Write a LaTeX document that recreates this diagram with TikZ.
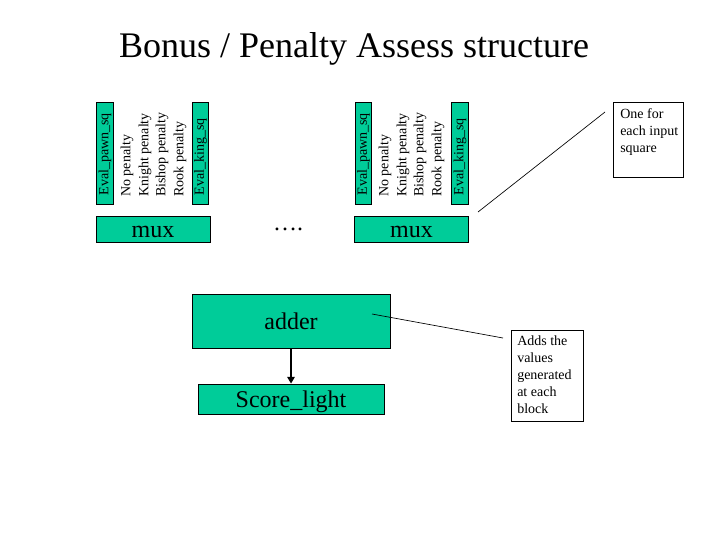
\documentclass[tikz,border=0pt]{standalone}
\usepackage{fontspec}
\setmainfont{Liberation Serif}
\usetikzlibrary{arrows.meta}
\definecolor{boxgreen}{RGB}{0,204,153}
\tikzset{
  gbox/.style={draw=black, line width=0.6pt, fill=boxgreen, inner sep=0pt},
  rotbox/.style={gbox, rotate=90, minimum width=76pt, minimum height=12.4pt,
    text width=63pt, inner xsep=6.5pt, align=left, font=\fontsize{10.5}{12.75}\selectfont},
  ptext/.style={rotate=90, anchor=west, inner sep=0pt, font=\fontsize{10.5}{12.75}\selectfont},
  muxbox/.style={gbox, minimum width=85.5pt, minimum height=19.5pt, text height=12pt, text depth=0pt, font=\fontsize{18}{21}\selectfont},
  callbox/.style={draw=black, line width=0.6pt, inner sep=0pt},
  calltext/.style={anchor=north west, inner sep=0pt, align=left, font=\fontsize{10.5}{12.75}\selectfont},
  thinline/.style={draw=black, line width=0.5pt},
}
\begin{document}
\begin{tikzpicture}[x=0.75pt, y=-0.75pt]
\useasboundingbox (0,0) rectangle (720,540);
% title
\node[anchor=base, inner sep=0pt, font=\fontsize{27}{32}\selectfont] (title) at (354,57) {Bonus / Penalty Assess structure};
% left group
\node[rotbox] (lpawn) at (105,153.5) {Eval\_pawn\_sq};
\node[ptext] (lno) at (127,197) {No penalty};
\node[ptext] (lkn) at (145,197) {Knight penalty};
\node[ptext] (lbi) at (162,197) {Bishop penalty};
\node[ptext] (lro) at (180,197) {Rook penalty};
\node[rotbox] (lking) at (200.5,153.5) {Eval\_king\_sq};
\node[muxbox] (lmux) at (153,229) {mux};
% dots
\node[inner sep=0pt, anchor=base, font=\fontsize{18}{21}\selectfont] (dots) at (288,230.5) {….};
% right group
\node[rotbox] (rpawn) at (363.5,153.5) {Eval\_pawn\_sq};
\node[ptext] (rno) at (385,197) {No penalty};
\node[ptext] (rkn) at (403,197) {Knight penalty};
\node[ptext] (rbi) at (420,197) {Bishop penalty};
\node[ptext] (rro) at (438,197) {Rook penalty};
\node[rotbox] (rking) at (460,153.5) {Eval\_king\_sq};
\node[muxbox] (rmux) at (411.5,229) {mux};
% callout one
\node[callbox, minimum width=52.5pt, minimum height=56.25pt] (onebox) at (648,139.5) {};
\node[calltext] (onetext) at (620,108) {One for\\each input\\square};
\coordinate (c1a) at (478,212);
\coordinate (c1b) at (605,112);
\draw[thinline] (c1a) -- (c1b);
% adder
\node[gbox, minimum width=148.5pt, minimum height=40.5pt, font=\fontsize{18}{21}\selectfont] (adder) at (291,321) {adder};
\node[gbox, minimum width=139.5pt, minimum height=22.5pt, text height=16.5pt, text depth=4pt, font=\fontsize{18}{21}\selectfont] (score) at (291,399) {Score\_light};
\draw[line width=2pt, -{Triangle[length=5pt,width=5.5pt]}] (adder.south) -- (score.north);
% callout adds
\node[callbox, minimum width=54pt, minimum height=68.25pt] (addbox) at (547,375.5) {};
\node[calltext] (addtext) at (517,336) {Adds the\\values\\generated\\at each\\block};
\coordinate (c2a) at (372,314);
\coordinate (c2b) at (503,338);
\draw[thinline] (c2a) -- (c2b);
\end{tikzpicture}
\end{document}
